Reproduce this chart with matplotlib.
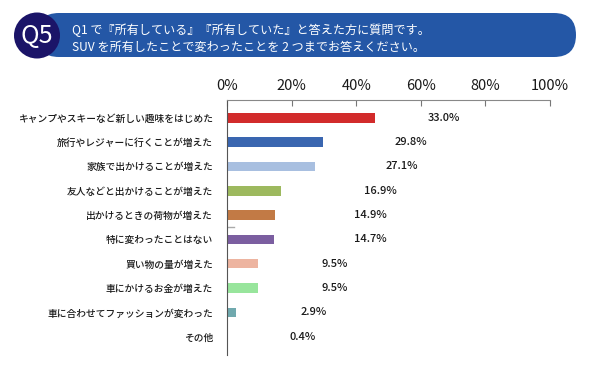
import matplotlib
matplotlib.use("Agg")
import matplotlib.pyplot as plt
from matplotlib.patches import FancyBboxPatch, Circle

plt.rcParams['font.family'] = ['Noto Sans CJK JP', 'DejaVu Sans']

# データ
categories = [
    "キャンプやスキーなど新しい趣味をはじめた",
    "旅行やレジャーに行くことが増えた",
    "家族で出かけることが増えた",
    "友人などと出かけることが増えた",
    "出かけるときの荷物が増えた",
    "特に変わったことはない",
    "買い物の量が増えた",
    "車にかけるお金が増えた",
    "車に合わせてファッションが変わった",
    "その他",
]
# 画像上のバーの長さ（1本目は図のとおり長めに描かれている）
bar_values = [45.8, 29.8, 27.1, 16.8, 14.9, 14.7, 9.5, 9.5, 2.8, 0.4]
value_labels = ["33.0%", "29.8%", "27.1%", "16.9%", "14.9%",
                "14.7%", "9.5%", "9.5%", "2.9%", "0.4%"]
x_ticks = [0, 20, 40, 60, 80, 100]
x_tick_labels = ["0%", "20%", "40%", "60%", "80%", "100%"]

title_q = "Q5"
title_lines = [
    "Q1 で『所有している』『所有していた』と答えた方に質問です。",
    "SUV を所有したことで変わったことを 2 つまでお答えください。",
]

colors = ["#d22b2b", "#3a66b0", "#a8bfe0", "#9db95e", "#c27a45",
          "#7b5ea0", "#edb4a0", "#98e59c", "#70a9ae", "#dddddd"]
# ラベルの左端（%単位）
label_x = [62, 52, 49, 42.5, 39.3, 39.3, 29.3, 29.3, 22.8, 19.5]

W, H = 593, 374
fig = plt.figure(figsize=(W / 100, H / 100), dpi=100)

# ヘッダー
bg = fig.add_axes([0, 0, 1, 1])
bg.set_xlim(0, W)
bg.set_ylim(H, 0)
bg.axis("off")
banner = FancyBboxPatch((37, 13), 576 - 37, 44,
                        boxstyle="round,pad=0,rounding_size=22",
                        fc="#2457a6", ec="none")
bg.add_patch(banner)
bg.add_patch(Circle((37, 35.5), 23, fc="#1b1468", ec="none"))
bg.text(37, 36, title_q, color="white", fontsize=18, ha="center", va="center")
bg.text(72, 30, title_lines[0], color="white", fontsize=8.7, va="center")
bg.text(72, 47, title_lines[1], color="white", fontsize=8.7, va="center")

# グラフ本体
ax = fig.add_axes([227 / W, 1 - 355 / H, 323 / W, 255 / H])
y = list(range(len(categories)))
ax.barh(y, bar_values, height=0.39, color=colors)
ax.set_xlim(0, 100)
ax.set_ylim(9.75, -0.73)

for i, lab in enumerate(value_labels):
    ax.text(label_x[i], i, lab, va="center", ha="left", fontsize=8,
            fontweight="medium", color="#1a1a1a")

# 小さな灰色の線（元画像にあるもの）
ax.plot([0, 2.2], [4.48, 4.48], color="#aaaaaa", lw=1)

ax.set_yticks(y)
ax.set_yticklabels(categories, fontsize=7, fontweight="medium", color="#1a1a1a")
ax.tick_params(axis="y", length=0, pad=10)

ax.xaxis.tick_top()
ax.set_xticks(x_ticks)
ax.set_xticklabels(x_tick_labels, fontsize=10.5, color="#1a1a1a")
ax.tick_params(axis="x", direction="in", length=4, color="#777777", pad=5)

for s in ["right", "bottom"]:
    ax.spines[s].set_visible(False)
ax.spines["top"].set_color("#888888")
ax.spines["left"].set_color("#555555")
ax.patch.set_alpha(0)

fig.savefig("out.png", dpi=100)
